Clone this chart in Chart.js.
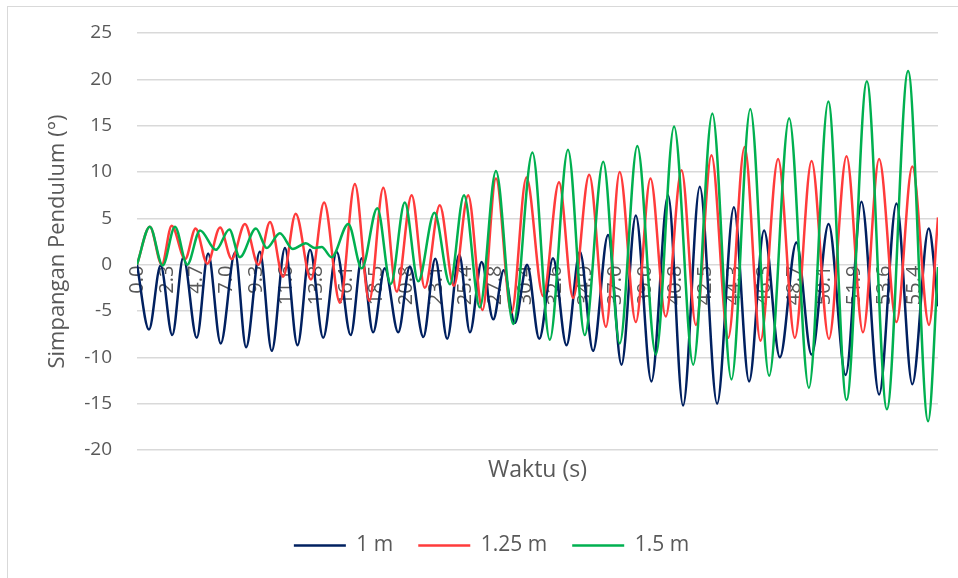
<!DOCTYPE html>
<html>
<head>
<meta charset="utf-8">
<script src="https://cdn.jsdelivr.net/npm/chart.js@4/dist/chart.umd.min.js"></script>
<style>
  html, body { margin: 0; padding: 0; background: #ffffff; }
  #wrap { width: 958px; height: 578px; }
</style>
</head>
<body>
<div id="wrap"><canvas id="chart" width="958" height="578"></canvas></div>
<script>
// Time labels shown along the horizontal axis (one per label slot)
const tickLabels = ['0.0', '2.3', '4.7', '7.0', '9.3', '11.6', '13.8', '16.1', '18.5', '20.8',
  '23.1', '25.4', '27.8', '30.4', '32.6', '34.9', '37.0', '39.0', '40.8', '42.5',
  '44.3', '46.3', '48.7', '50.1', '51.9', '53.6', '55.4'];

// Series names
const seriesNames = ['1 m', '1.25 m', '1.5 m'];

// Turning points of each pendulum: position along the label axis, and displacement in degrees
const pos1m = [0, 0.40, 0.79, 1.18, 1.55, 2.00, 2.38, 2.80, 3.28, 3.65,
  4.11, 4.51, 4.95, 5.37, 5.79, 6.23, 6.68, 7.15, 7.52, 7.90,
  8.29, 8.74, 9.13, 9.58, 9.98, 10.38, 10.78, 11.14, 11.53, 11.92,
  12.27, 12.64, 13.05, 13.46, 13.92, 14.37, 14.82, 15.26, 15.76, 16.21,
  16.69, 17.21, 17.77, 18.27, 18.83, 19.41, 19.97, 20.48, 20.98, 21.51,
  22.06, 22.57, 23.14, 23.71, 24.24, 24.83, 25.41, 25.94, 26.49, 26.80];
const val1m = [0, -7.0, -0.1, -7.6, 0.8, -7.9, 1.2, -8.5, 1.3, -8.9,
  1.4, -9.3, 1.8, -8.7, 1.6, -7.9, 1.4, -7.6, 0.7, -7.3,
  -0.4, -7.3, -0.2, -7.8, 0.65, -8.0, 1.1, -7.3, 0.3, -5.9,
  -0.6, -6.3, 0.0, -8.0, 0.7, -8.7, 1.4, -9.3, 3.2, -10.8,
  5.3, -12.6, 7.5, -15.2, 8.4, -15.0, 6.2, -12.6, 3.7, -10.0,
  2.4, -9.7, 4.4, -11.9, 6.8, -14.0, 6.6, -12.9, 3.9, -4.5];

const pos125m = [0, 0.43, 0.83, 1.16, 1.61, 1.96, 2.35, 2.78, 3.17, 3.61,
  4.06, 4.45, 4.89, 5.31, 5.82, 6.26, 6.79, 7.29, 7.77, 8.24,
  8.69, 9.19, 9.63, 10.13, 10.60, 11.08, 11.56, 12.01, 12.53, 13.03,
  13.59, 14.12, 14.59, 15.13, 15.69, 16.15, 16.69, 17.18, 17.69, 18.22,
  18.70, 19.22, 19.78, 20.33, 20.86, 21.45, 22.01, 22.57, 23.15, 23.74,
  24.29, 24.83, 25.41, 25.94, 26.50, 26.80];
const val125m = [0, 4.1, 0.0, 4.2, 0.6, 3.9, 0.1, 4.0, 0.6, 4.4,
  0.0, 4.6, -1.3, 5.5, -1.6, 6.7, -4.1, 8.7, -3.9, 8.3,
  -2.9, 7.5, -2.5, 6.4, -2.3, 7.5, -4.9, 9.3, -5.2, 9.4,
  -3.4, 8.9, -3.6, 9.7, -6.7, 10.0, -6.2, 9.3, -5.6, 10.2,
  -6.5, 11.8, -7.9, 12.7, -8.2, 11.4, -7.9, 11.2, -8.0, 11.7,
  -7.3, 11.4, -6.2, 10.6, -6.5, 5.1];

const pos15m = [0, 0.43, 0.86, 1.27, 1.68, 2.11, 2.64, 3.09, 3.44, 3.98,
  4.34, 4.78, 5.21, 5.65, 5.95, 6.18, 6.51, 7.07, 7.52, 8.04,
  8.49, 8.96, 9.41, 9.95, 10.47, 10.94, 11.47, 12.01, 12.59, 13.23,
  13.81, 14.42, 14.98, 15.60, 16.15, 16.74, 17.36, 17.97, 18.61, 19.25,
  19.89, 20.52, 21.15, 21.82, 22.48, 23.13, 23.74, 24.42, 25.09, 25.80,
  26.47, 26.80];
const val15m = [0, 4.1, -0.1, 4.1, 0.0, 3.7, 1.6, 3.8, 0.8, 3.9,
  1.8, 3.4, 1.7, 2.3, 1.8, 1.9, 0.8, 4.4, -0.4, 6.1,
  -2.1, 6.7, -1.8, 5.6, -2.1, 7.5, -4.6, 10.1, -6.4, 12.1,
  -8.1, 12.4, -7.6, 11.1, -8.5, 12.8, -9.7, 14.9, -10.8, 16.3,
  -12.4, 16.8, -12.0, 15.8, -13.3, 17.6, -14.6, 19.8, -15.6, 20.9,
  -16.9, -0.25];

const AXIS_END = 26.8;
const TEXT = '#595959';
const GRID = '#d9d9d9';

function points(xs, ys) {
  return xs.map((x, i) => ({ x: x, y: ys[i] }));
}

Chart.defaults.font.family = "'Open Sans', 'Noto Sans', sans-serif";
Chart.defaults.color = TEXT;

// White page with a thin frame along the top and left edges
const framePlugin = {
  id: 'frame',
  beforeDraw(chart) {
    const ctx = chart.ctx;
    ctx.save();
    ctx.fillStyle = '#ffffff';
    ctx.fillRect(0, 0, chart.width, chart.height);
    ctx.strokeStyle = GRID;
    ctx.lineWidth = 1;
    ctx.strokeRect(7.5, 6.5, chart.width + 20, chart.height + 20);
    ctx.restore();
  }
};

const lineStyle = { borderWidth: 2.5, pointRadius: 0, pointHoverRadius: 0, fill: false, cubicInterpolationMode: 'monotone' };

new Chart(document.getElementById('chart'), {
  type: 'line',
  data: {
    datasets: [
      Object.assign({ label: seriesNames[0], data: points(pos1m, val1m), borderColor: '#002060', backgroundColor: '#002060', order: 3 }, lineStyle),
      Object.assign({ label: seriesNames[1], data: points(pos125m, val125m), borderColor: '#ff3b3b', backgroundColor: '#ff3b3b', order: 2 }, lineStyle),
      Object.assign({ label: seriesNames[2], data: points(pos15m, val15m), borderColor: '#00b050', backgroundColor: '#00b050', order: 1 }, lineStyle)
    ]
  },
  options: {
    responsive: false,
    animation: false,
    layout: { padding: { top: 33, right: 20, bottom: 12, left: 45 } },
    plugins: {
      tooltip: { enabled: false },
      legend: {
        position: 'bottom',
        labels: {
          usePointStyle: true,
          pointStyle: 'line',
          pointStyleWidth: 52,
          padding: 25,
          color: TEXT,
          font: { size: 21 },
          sort: (a, b) => a.datasetIndex - b.datasetIndex
        }
      }
    },
    scales: {
      x: {
        type: 'linear',
        position: 'bottom',
        min: 0,
        max: AXIS_END,
        ticks: { display: false },
        grid: { display: false, drawTicks: false },
        border: { display: false },
        title: { display: true, text: 'Waktu (s)', color: TEXT, font: { size: 23 }, padding: { top: 6, bottom: 26 } },
        afterFit(scale) { scale.height = 60; }
      },
      xLabels: {
        type: 'linear',
        position: { y: 0 },
        min: 0,
        max: AXIS_END,
        z: 1,
        afterBuildTicks(scale) {
          scale.ticks = tickLabels.map((_, i) => ({ value: i }));
        },
        ticks: {
          autoSkip: false,
          minRotation: 90,
          maxRotation: 90,
          padding: 1,
          color: TEXT,
          font: { size: 20 },
          callback: (value) => tickLabels[value]
        },
        grid: { display: false, drawTicks: false },
        border: { display: false }
      },
      y: {
        min: -20,
        max: 25,
        ticks: { stepSize: 5, padding: 5, color: TEXT, font: { size: 19 } },
        grid: { color: GRID, lineWidth: 1.5, drawTicks: true, tickLength: 20, tickColor: 'rgba(0,0,0,0)' },
        border: { display: false },
        title: { display: true, text: 'Simpangan Pendulum (°)', color: TEXT, font: { size: 22 }, padding: { top: 0, bottom: 0 } },
        afterFit(scale) { scale.width = 92; }
      }
    }
  },
  plugins: [framePlugin]
});
</script>
</body>
</html>
